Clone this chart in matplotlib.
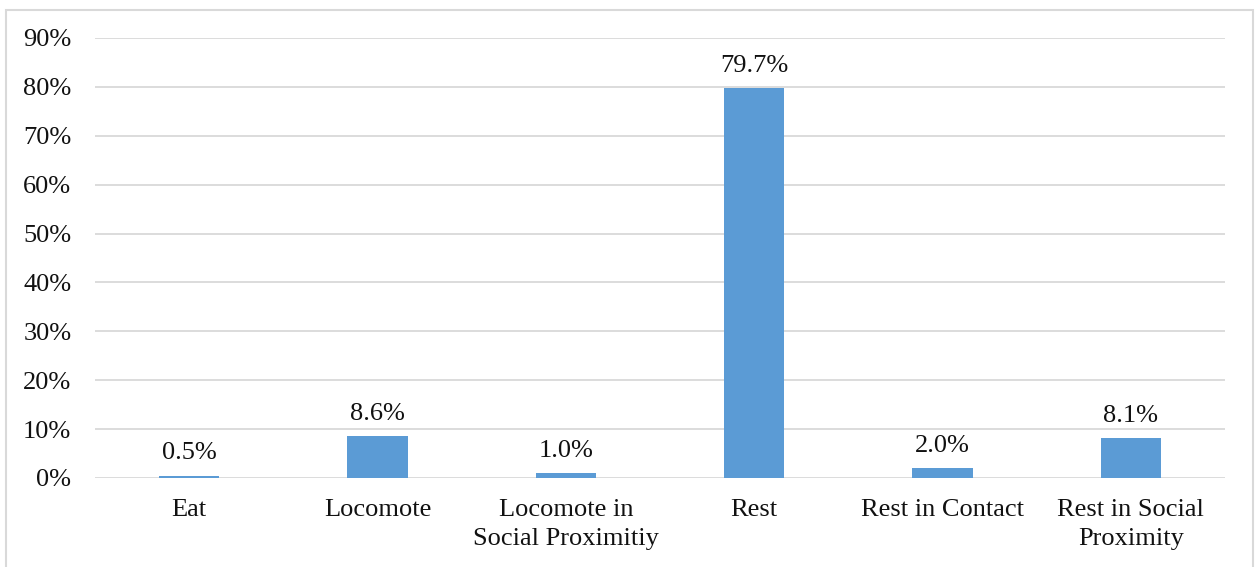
import matplotlib
matplotlib.use("Agg")
import matplotlib.pyplot as plt
from matplotlib.patches import Rectangle
from matplotlib.ticker import FuncFormatter, MultipleLocator

categories = ["Eat", "Locomote", "Locomote in\nSocial Proximitiy", "Rest",
              "Rest in Contact", "Rest in Social\nProximity"]
values = [0.5, 8.6, 1.0, 79.7, 2.0, 8.1]
labels = ["0.5%", "8.6%", "1.0%", "79.7%", "2.0%", "8.1%"]

plt.rcParams["font.family"] = ["Liberation Serif", "DejaVu Serif"]

W, H = 1258, 567
FS = 19
fig = plt.figure(figsize=(W / 100, H / 100), dpi=100)
ax = fig.add_axes([95 / W, 1 - 478 / H, 1130 / W, 440 / H])

x = list(range(len(categories)))
bars = ax.bar(x, values, width=0.32, color="#5B9BD5", zorder=3)

for b, lab in zip(bars, labels):
    ax.annotate(lab, (b.get_x() + b.get_width() / 2, b.get_height()),
                xytext=(0, 8), textcoords="offset points",
                ha="center", va="bottom", fontsize=FS, color="#111111")

ax.set_xlim(-0.5, len(categories) - 0.5)
ax.set_ylim(0, 90)
ax.yaxis.set_major_locator(MultipleLocator(10))
ax.yaxis.set_major_formatter(FuncFormatter(lambda v, p: f"{v:.0f}%"))
ax.grid(axis="y", color="#d9d9d9", linewidth=1.3, zorder=0)
ax.set_xticks(x)
ax.set_xticklabels(categories, fontsize=FS, linespacing=1.45, color="#111111")
ax.tick_params(axis="y", labelsize=FS, labelcolor="#111111", length=0, pad=17)
ax.tick_params(axis="x", length=0, pad=15)
for s in ax.spines.values():
    s.set_visible(False)

# light outer frame around the chart area
fig.patches.append(Rectangle((5.5 / W, -0.01), (1253 - 5.5) / W, 1 - 9.5 / H + 0.01,
                             transform=fig.transFigure, fill=False,
                             edgecolor="#d9d9d9", linewidth=1.5))

fig.savefig("out.png", dpi=100, facecolor="white")
